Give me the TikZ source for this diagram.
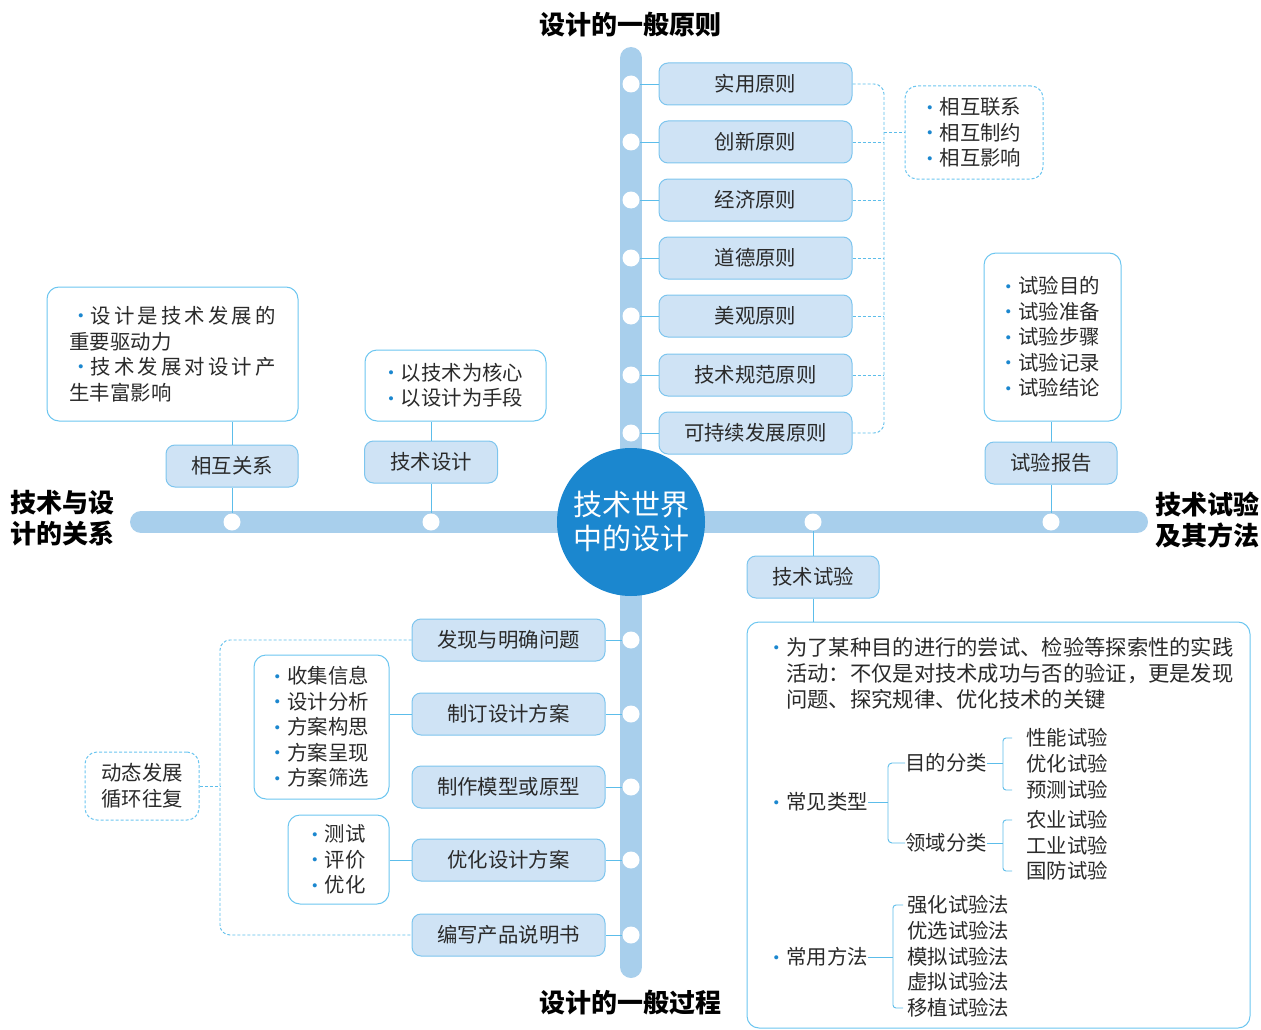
\documentclass[tikz,border=0pt]{standalone}
\usepackage{fontspec}
\setmainfont{Noto Sans CJK SC}
\definecolor{barc}{HTML}{A8CFEC}
\definecolor{pillf}{HTML}{CFE3F5}
\definecolor{pillb}{HTML}{7DC5EE}
\definecolor{boxb}{HTML}{6CC6F0}
\definecolor{conc}{HTML}{5CBDEA}
\definecolor{hubc}{HTML}{1B87CF}
\definecolor{bulc}{HTML}{1B87CF}
\definecolor{txtc}{HTML}{2A2A2A}
\newcommand\mybul{\makebox[13pt][l]{\hspace*{1pt}\textcolor{bulc}{\raisebox{5.6pt}{\fontsize{4.5}{5}\selectfont ●}}}}
\newcommand\myfs{\fontsize{20.4}{25.5}\selectfont}
\begin{document}
\begin{tikzpicture}[x=1pt,y=-1pt,
  pill/.style={draw=pillb, fill=pillf, line width=1pt, rounded corners=9pt, minimum height=42pt, inner sep=0pt, font=\myfs, text=txtc},
  lbox/.style={draw=boxb, fill=white, line width=1pt, rounded corners=12pt, inner sep=0pt, align=left, font=\myfs, text=txtc},
  dbox/.style={lbox, dash pattern=on 3pt off 2pt},
  dotn/.style={circle, fill=white, minimum size=17pt, inner sep=0pt},
  conn/.style={draw=conc, line width=0.9pt},
  dconn/.style={conn, dash pattern=on 3pt off 2pt},
  brk/.style={draw=conc, line width=0.9pt},
  txt/.style={font=\myfs, text=txtc, inner sep=0pt},
  ttl/.style={font=\fontsize{26}{31}\selectfont\bfseries, text=black, inner sep=0pt, align=left},
]
\useasboundingbox (0,0) rectangle (1261,1030);
% bars
\draw[barc, line width=22pt, line cap=round] (631,58) -- (631,967);
\draw[barc, line width=22pt, line cap=round] (141,522) -- (1137,522);
% hub
\node[circle, fill=hubc, minimum size=148pt, inner sep=0pt, text=white, font=\fontsize{29}{34}\selectfont, align=center] (hub) at (631,522) {技术世界\\中的设计};
% titles
\node[ttl] (tt) at (630,25) {设计的一般原则};
\node[ttl] (tb) at (630,1003) {设计的一般过程};
\node[ttl, anchor=west] (tl) at (10,518) {技术与设\\计的关系};
\node[ttl, anchor=west] (tr) at (1155,520) {技术试验\\及其方法};
% top pills
\foreach \y/\t [count=\i] in {84/实用原则,142/创新原则,200/经济原则,258/道德原则,316/美观原则,375/技术规范原则,433/可持续发展原则}{
  \node[dotn] (td\i) at (631,\y) {};
  \node[pill, minimum width=193pt] (tp\i) at (755.5,\y) {\t};
  \draw[conn] (td\i) -- (tp\i);
}
\coordinate (bv) at (884,0);
\draw[dconn, rounded corners=10pt] (tp1.east) -| (bv |- tp4) |- (tp7.east);
\foreach \i in {2,...,6} \draw[dconn] (tp\i.east) -- (tp\i.east -| bv);
\node[dbox, minimum width=138pt, minimum height=93pt] (rel) at (974,132.5) {\mybul 相互联系\\\mybul 相互制约\\\mybul 相互影响};
\draw[dconn] (rel.west -| bv) -- (rel.west);
% left branch 1
\node[dotn] (hd1) at (232,522) {};
\node[pill, minimum width=132pt] (hp1) at (232,466) {相互关系};
\node[lbox, minimum width=251pt, minimum height=134pt] (hb1) at (172.5,354) {\hspace*{8pt}\makebox[198pt]{\mybul 设\hfill 计\hfill 是\hfill 技\hfill 术\hfill 发\hfill 展\hfill 的}\\重要驱动力\\\hspace*{8pt}\makebox[198pt]{\mybul 技\hfill 术\hfill 发\hfill 展\hfill 对\hfill 设\hfill 计\hfill 产}\\生丰富影响};
\draw[conn] (hd1) -- (hp1);
\draw[conn] (hp1.north) -- (hp1.north |- hb1.south);
% left branch 2
\node[dotn] (hd2) at (431,522) {};
\node[pill, minimum width=133pt] (hp2) at (431,462) {技术设计};
\node[lbox, minimum width=181pt, minimum height=71pt] (hb2) at (455.5,385.5) {\mybul 以技术为核心\\\mybul 以设计为手段};
\draw[conn] (hd2) -- (hp2);
\draw[conn] (hp2.north) -- (hp2.north |- hb2.south);
% right branch up
\node[dotn] (hd3) at (1051,522) {};
\node[pill, minimum width=132pt] (hp3) at (1051,463) {试验报告};
\node[lbox, minimum width=137pt, minimum height=168pt] (hb3) at (1052.5,337) {\mybul 试验目的\\\mybul 试验准备\\\mybul 试验步骤\\\mybul 试验记录\\\mybul 试验结论};
\draw[conn] (hd3) -- (hp3);
\draw[conn] (hp3.north) -- (hp3.north |- hb3.south);
% right branch down
\node[dotn] (hd4) at (813,522) {};
\node[pill, minimum width=132pt] (hp4) at (813,577) {技术试验};
\node[lbox, minimum width=503pt, minimum height=406pt] (big) at (998.5,825) {};
\draw[conn] (hd4) -- (hp4);
\draw[conn] (hp4.south) -- (hp4.south |- big.north);
% big box content
\node[txt, anchor=west, align=left, font=\fontsize{21.3}{26}\selectfont] (exp) at (773,673) {\mybul 为了某种目的进行的尝试、检验等探索性的实践\\\hphantom{\mybul}活动：不仅是对技术成功与否的验证，更是发现\\\hphantom{\mybul}问题、探究规律、优化技术的关键};
\node[txt, anchor=west] (cj) at (773,802) {\mybul 常见类型};
\node[txt, anchor=west] (md) at (905,763) {目的分类};
\node[txt, anchor=west] (ly) at (905,843) {领域分类};
\coordinate (b1) at (888,802);
\draw[brk] (cj.east) -- (b1);
\draw[brk, rounded corners=4pt] (md.west) -| (b1) |- (ly.west);
\foreach \y/\t [count=\i] in {738/性能试验,764/优化试验,790/预测试验}
  \node[txt, anchor=west] (ma\i) at (1026,\y) {\t};
\coordinate (b2) at (1003,763);
\draw[brk] (md.east) -- (b2);
\draw[brk, rounded corners=3pt] ([xshift=-14pt]ma1.west) -| (b2) |- ([xshift=-14pt]ma3.west);
\foreach \y/\t [count=\i] in {820/农业试验,846/工业试验,871/国防试验}
  \node[txt, anchor=west] (la\i) at (1026,\y) {\t};
\coordinate (b3) at (1003,843);
\draw[brk] (ly.east) -- (b3);
\draw[brk, rounded corners=3pt] ([xshift=-14pt]la1.west) -| (b3) |- ([xshift=-14pt]la3.west);
\node[txt, anchor=west] (cy) at (773,957) {\mybul 常用方法};
\foreach \y/\t [count=\i] in {905/强化试验法,931/优选试验法,957/模拟试验法,982/虚拟试验法,1008/移植试验法}
  \node[txt, anchor=west] (fa\i) at (907,\y) {\t};
\coordinate (b4) at (893,957);
\draw[brk] (cy.east) -- (b4);
\draw[brk, rounded corners=3pt] ([xshift=-4pt]fa1.west) -| (b4) |- ([xshift=-4pt]fa5.west);
% bottom pills
\foreach \y/\t [count=\i] in {640/发现与明确问题,714/制订设计方案,787/制作模型或原型,860/优化设计方案,935/编写产品说明书}{
  \node[dotn] (bd\i) at (631,\y) {};
  \node[pill, minimum width=193pt] (bp\i) at (508.5,\y) {\t};
  \draw[conn] (bd\i) -- (bp\i);
}
\node[lbox, minimum width=135pt, minimum height=144pt] (cb1) at (321.5,727) {\mybul 收集信息\\\mybul 设计分析\\\mybul 方案构思\\\mybul 方案呈现\\\mybul 方案筛选};
\draw[conn] (bp2.west) -- (bp2.west -| cb1.east);
\node[lbox, minimum width=101pt, minimum height=89pt] (cb2) at (338.5,859.5) {\mybul 测试\\\mybul 评价\\\mybul 优化};
\draw[conn] (bp4.west) -- (bp4.west -| cb2.east);
\node[dbox, align=center, minimum width=114pt, minimum height=68pt] (dyn) at (142,786) {动态发展\\循环往复};
\coordinate (lv) at (220,0);
\draw[dconn, rounded corners=10pt] (bp1.west) -| (lv |- dyn) |- (bp5.west);
\draw[dconn] (dyn.east) -- (dyn.east -| lv);
\end{tikzpicture}
\end{document}
